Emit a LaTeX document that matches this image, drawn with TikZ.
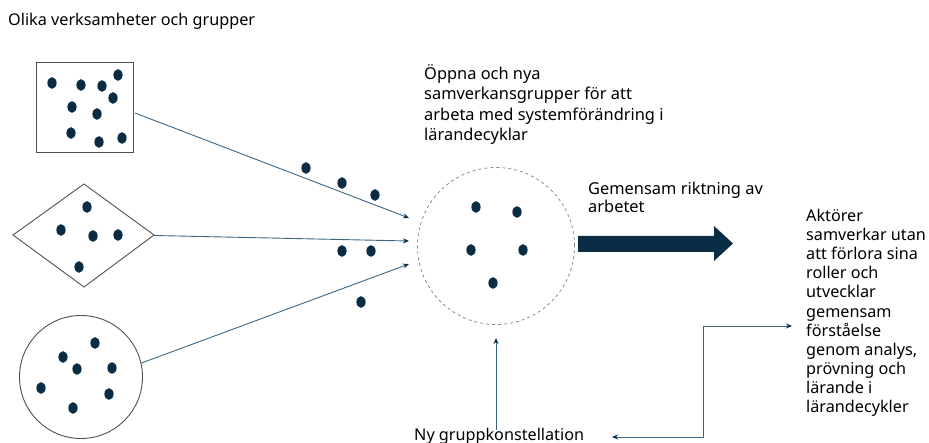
\documentclass[tikz,border=0pt]{standalone}
\usepackage{fontspec}
\setmainfont{Noto Sans}
\usetikzlibrary{arrows.meta}
\definecolor{navy}{HTML}{0A2C45}
\definecolor{linkblue}{HTML}{3D6584}
\definecolor{outline}{HTML}{505050}
\tikzset{
  dot/.style={fill=navy},
  shapeline/.style={draw=outline, line width=0.9pt},
  link/.style={draw=linkblue, line width=0.9pt, -{Stealth[length=6pt,width=5pt,color=navy]}},
  dlink/.style={draw=linkblue, line width=0.9pt, {Stealth[length=6pt,width=5pt,color=navy]}-{Stealth[length=6pt,width=5pt,color=navy]}},
  lbl/.style={inner sep=0pt, anchor=north west, align=left, text=black},
}
\newcommand{\dotat}[2]{\fill[dot] (#1,#2) ellipse [x radius=4.6pt, y radius=5.8pt];}
\begin{document}
\begin{tikzpicture}[x=1pt,y=-1pt]
\useasboundingbox (0,0) rectangle (929,443);
% texts
\node[lbl, anchor=base west, font=\fontsize{16.2}{19}\selectfont] (title) at (8,26) {Olika verksamheter och grupper};
\node[lbl, font=\fontsize{16.4}{20.5}\selectfont] (open) at (424,64) {Öppna och nya\\samverkansgrupper för att\\arbeta med systemförändring i\\lärandecyklar};
\node[lbl, font=\fontsize{16.4}{17.5}\selectfont] (dir) at (588,182) {Gemensam riktning av\\arbetet};
\node[lbl, font=\fontsize{16.2}{19.1}\selectfont] (act) at (806,209) {Aktörer\\samverkar utan\\att förlora sina\\roller och\\utvecklar\\gemensam\\förståelse\\genom analys,\\prövning och\\lärande i\\lärandecykler};
\node[lbl, anchor=base west, font=\fontsize{16.2}{19}\selectfont] (ny) at (414,440) {Ny gruppkonstellation};
% square
\node[shapeline, rectangle, minimum width=97pt, minimum height=90pt, inner sep=0pt] (sq) at (84.5,107) {};
\dotat{52}{83}\dotat{81}{85}\dotat{102}{86}\dotat{118}{75}\dotat{113}{98}
\dotat{72}{107}\dotat{97}{114}\dotat{71}{133}\dotat{99}{142}\dotat{122}{138}
% diamond
\draw[shapeline] (13,235) -- (84,184) -- (154,235) -- (84,287) -- cycle;
\coordinate (dia) at (154,235.5);
\dotat{87}{207}\dotat{61}{230}\dotat{93}{236}\dotat{118}{235}\dotat{79}{267}
% circle
\node[shapeline, circle, minimum size=123pt, inner sep=0pt] (ci) at (81,377) {};
\dotat{95}{343}\dotat{63}{357}\dotat{77}{369}\dotat{112}{368}
\dotat{41}{388}\dotat{109}{394}\dotat{73}{408}
% dashed circle
\node[draw=gray, dashed, circle, minimum size=157pt, inner sep=0pt, line width=0.7pt] (dc) at (496,246) {};
\dotat{476}{207}\dotat{517}{212}\dotat{471}{250}\dotat{523}{250}\dotat{493}{283}
% free dots
\dotat{306}{168}\dotat{342}{183}\dotat{375}{195}
\dotat{342}{251}\dotat{371}{251}\dotat{361}{302}
% arrows in
\coordinate (in1) at (409,218);
\coordinate (in2) at (409,241);
\coordinate (in3) at (409,264);
\draw[link] (135,113) -- (in1);
\draw[link] (dia) -- (in2);
\draw[link] (ci.13) -- (in3);
% big arrow
\fill[navy] (578,236) -- (714,236) -- (714,226) -- (733,243.5) -- (714,261) -- (714,252) -- (578,252) -- cycle;
% vertical arrow
\coordinate (vb) at (496,430);
\coordinate (vt) at (496,338);
\draw[link] (vb) -- (vt);
% elbow
\coordinate (eL) at (612,437);
\coordinate (eR) at (792,326);
\draw[dlink] (eL) -- (703,437) -- (703,326) -- (eR);
\end{tikzpicture}
\end{document}
